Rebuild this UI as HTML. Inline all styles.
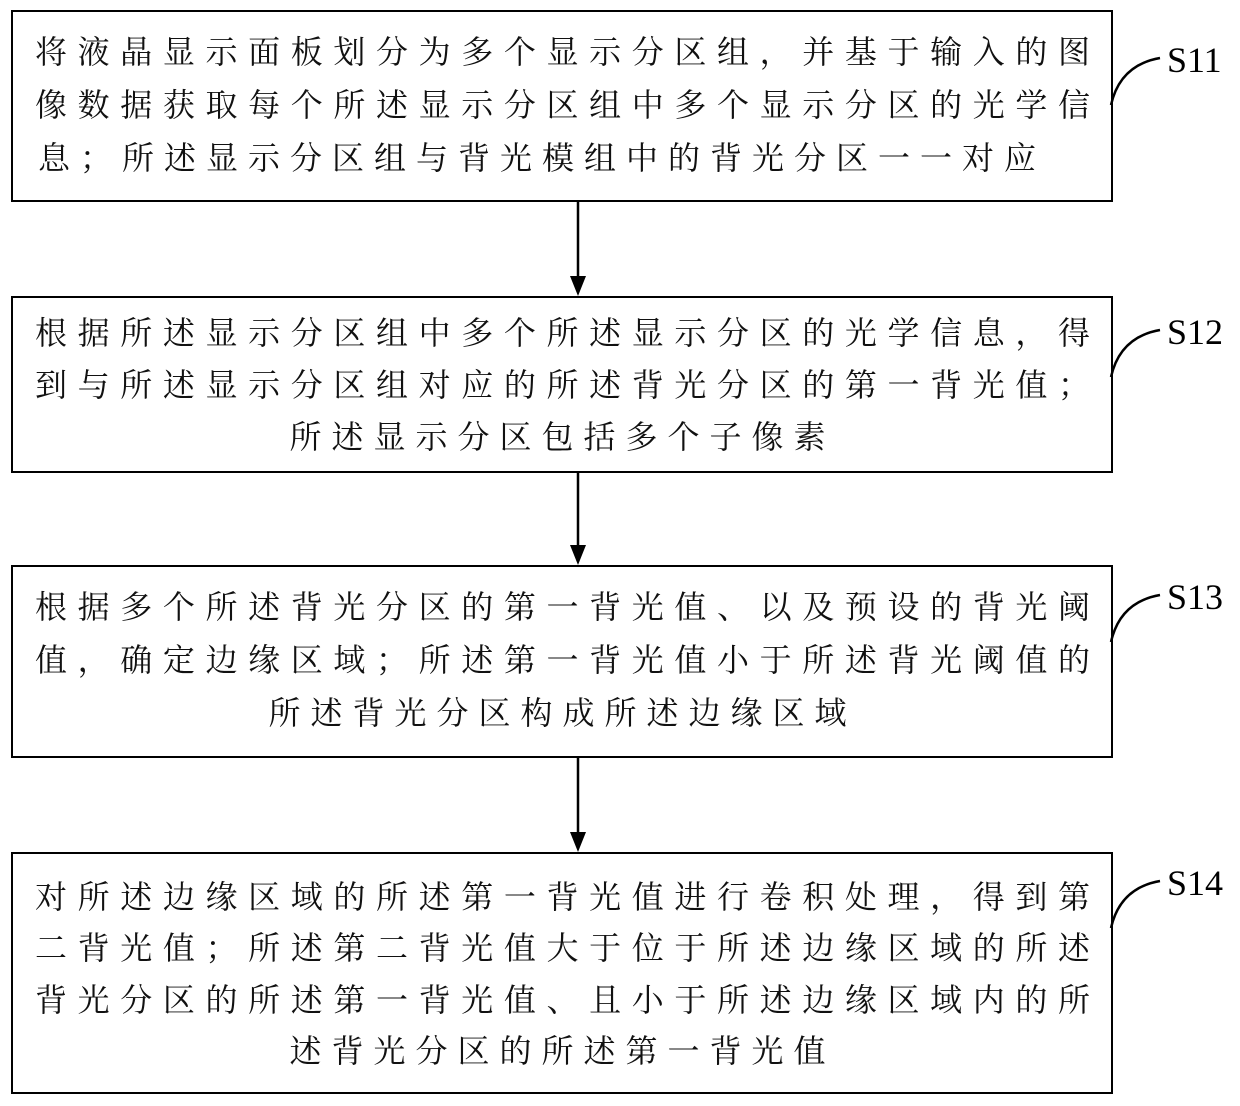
<!DOCTYPE html>
<html><head><meta charset="utf-8"><style>
body{margin:0;width:1240px;height:1106px;background:#fff;position:relative;overflow:hidden;font-family:"Liberation Serif","Noto Serif CJK SC",serif;}
.box{position:absolute;left:11px;width:1098px;border:2.5px solid #000;}
.l{position:absolute;left:35px;width:1055px;font-size:32px;line-height:40px;height:40px;white-space:nowrap;color:#111;}
.j{text-align:justify;text-align-last:justify;}
.c{text-align:center;letter-spacing:10px;}
.s{position:absolute;left:1167px;font-size:36px;font-family:"Liberation Serif",serif;line-height:36px;}
</style></head><body>
<div class="box" style="top:10px;height:188px"></div>
<div class="box" style="top:296px;height:173px"></div>
<div class="box" style="top:565px;height:189px"></div>
<div class="box" style="top:852px;height:238px"></div>

<div class="l j" style="top:32px">将液晶显示面板划分为多个显示分区组，并基于输入的图</div>
<div class="l j" style="top:85px">像数据获取每个所述显示分区组中多个显示分区的光学信</div>
<div class="l" style="top:138px;letter-spacing:10px;left:38px">息；所述显示分区组与背光模组中的背光分区一一对应</div>

<div class="l j" style="top:313px">根据所述显示分区组中多个所述显示分区的光学信息，得</div>
<div class="l j" style="top:365px">到与所述显示分区组对应的所述背光分区的第一背光值；</div>
<div class="l c" style="top:417px">所述显示分区包括多个子像素</div>

<div class="l j" style="top:587px">根据多个所述背光分区的第一背光值、以及预设的背光阈</div>
<div class="l j" style="top:640px">值，确定边缘区域；所述第一背光值小于所述背光阈值的</div>
<div class="l c" style="top:693px">所述背光分区构成所述边缘区域</div>

<div class="l j" style="top:877px">对所述边缘区域的所述第一背光值进行卷积处理，得到第</div>
<div class="l j" style="top:928px">二背光值；所述第二背光值大于位于所述边缘区域的所述</div>
<div class="l j" style="top:980px">背光分区的所述第一背光值、且小于所述边缘区域内的所</div>
<div class="l c" style="top:1031px">述背光分区的所述第一背光值</div>

<svg width="1240" height="1106" style="position:absolute;left:0;top:0">
<g stroke="#000" stroke-width="2.5" fill="none">
<line x1="578" y1="200" x2="578" y2="278"/>
<line x1="578" y1="471" x2="578" y2="547"/>
<line x1="578" y1="756" x2="578" y2="834"/>
<path d="M1111 105 Q1120 65 1160 58"/>
<path d="M1111 377 Q1120 337 1160 330"/>
<path d="M1111 642 Q1120 602 1160 595"/>
<path d="M1111 928 Q1120 888 1160 881"/>
</g>
<g fill="#000">
<polygon points="570,276 586,276 578,296"/>
<polygon points="570,545 586,545 578,565"/>
<polygon points="570,832 586,832 578,852"/>
</g>
</svg>
<div class="s" style="top:42px">S11</div>
<div class="s" style="top:314px">S12</div>
<div class="s" style="top:579px">S13</div>
<div class="s" style="top:865px">S14</div>
</body></html>
